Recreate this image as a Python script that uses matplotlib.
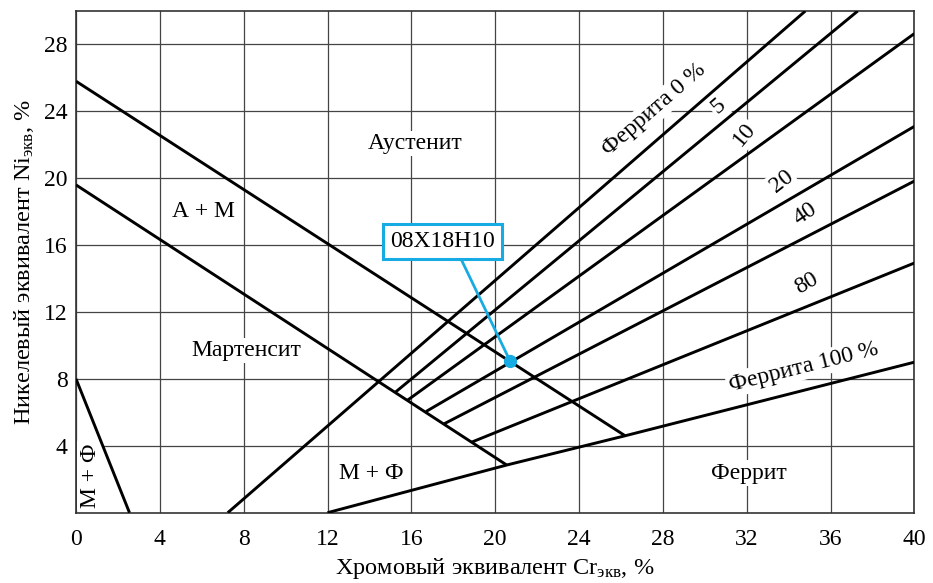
import numpy as np
import matplotlib
matplotlib.use("Agg")
import matplotlib.pyplot as plt

plt.rcParams['font.family'] = ['Liberation Serif', 'DejaVu Serif']
plt.rcParams['mathtext.fontset'] = 'custom'
plt.rcParams['mathtext.rm'] = 'Liberation Serif'
plt.rcParams['mathtext.it'] = 'Liberation Serif:italic'

# Phase boundaries (Cr_eq, Ni_eq)
austenite_line = ([0.0, 26.2], [25.8, 4.6])
martensite_line = ([0.0, 20.55], [19.6, 2.85])
mf_line = ([0.0, 2.55], [8.0, 0.0])
ferrite_full_line = ([12.0, 20.55, 26.2, 40.0], [0.0, 2.85, 4.6, 9.0])

# Ferrite content lines: start and end points
ferrite_pct = [0, 5, 10, 20, 40, 80]
ferrite_x0 = [7.24, 15.25, 15.81, 16.70, 17.57, 18.88]
ferrite_y0 = [0.00, 7.22, 6.72, 6.05, 5.32, 4.22]
ferrite_x1 = [34.8, 37.3, 40.0, 40.0, 40.0, 40.0]
ferrite_y1 = [30.0, 30.0, 28.65, 23.1, 19.83, 14.93]

# Steel grade point
steel_name = '08Х18Н10'
steel_cr = 20.71
steel_ni = 9.07

x_ticks = list(range(0, 41, 4))
y_ticks = list(range(4, 29, 4))

cyan = '#17ABE3'
fs = 17

fig = plt.figure(figsize=(9.33, 5.83), dpi=100)
ax = fig.add_axes([0.0815, 0.1206, 0.8985, 0.8605])
ax.set_xlim(0, 40)
ax.set_ylim(0, 30)
ax.set_xticks(x_ticks)
ax.set_yticks(y_ticks)
ax.tick_params(length=0, labelsize=fs)
ax.tick_params(axis='x', pad=12)
ax.tick_params(axis='y', pad=6)
ax.grid(True, color='#444444', linewidth=0.9)
ax.set_axisbelow(True)
for s in ax.spines.values():
    s.set_linewidth(1.2)
    s.set_color('#333333')

lw = 2.1
for xs, ys in [austenite_line, martensite_line, mf_line, ferrite_full_line]:
    ax.plot(xs, ys, color='black', lw=lw, zorder=4, solid_capstyle='butt')
for x0, y0, x1, y1 in zip(ferrite_x0, ferrite_y0, ferrite_x1, ferrite_y1):
    ax.plot([x0, x1], [y0, y1], color='black', lw=lw, zorder=4, solid_capstyle='butt')

white = dict(facecolor='white', edgecolor='none', pad=1.5)

def label(x, y, s, rot=0, size=fs):
    ax.text(x, y, s, fontsize=size, rotation=rot, ha='center', va='center',
            rotation_mode='anchor', bbox=white, zorder=3)

# Region names
label(16.17, 22.1, 'Аустенит')
label(6.07, 18.0, 'А + М')
label(8.14, 9.68, 'Мартенсит')
label(0.67, 2.2, 'М + Ф', rot=90)
label(14.1, 2.37, 'М + Ф')
label(32.1, 2.37, 'Феррит')

# Ferrite content labels
label(27.6, 24.1, 'Феррита 0 %', rot=41)
label(30.65, 24.3, '5', rot=41)
label(31.87, 22.6, '10', rot=50)
label(33.67, 19.8, '20', rot=38)
label(34.8, 17.9, '40', rot=34)
label(34.86, 13.7, '80', rot=30)
label(34.7, 8.7, 'Феррита 100 %', rot=14)

ax.plot([steel_cr], [steel_ni], 'o', color=cyan, markersize=8.5, zorder=6)
ax.annotate(steel_name, xy=(steel_cr, steel_ni), xytext=(17.5, 16.24),
            fontsize=17, ha='center', va='center', zorder=6,
            bbox=dict(boxstyle='square,pad=0.3', facecolor='white',
                      edgecolor=cyan, linewidth=2.2),
            arrowprops=dict(arrowstyle='-', color=cyan, lw=2.0,
                            relpos=(0.64, 0.0), shrinkA=0, shrinkB=0))

ax.set_xlabel('Хромовый эквивалент Cr$_{\\mathrm{экв}}$, %', fontsize=17.5, labelpad=4)
ax.set_ylabel('Никелевый эквивалент Ni$_{\\mathrm{экв}}$, %', fontsize=17.5, labelpad=6)

fig.savefig('out.png', dpi=100)
